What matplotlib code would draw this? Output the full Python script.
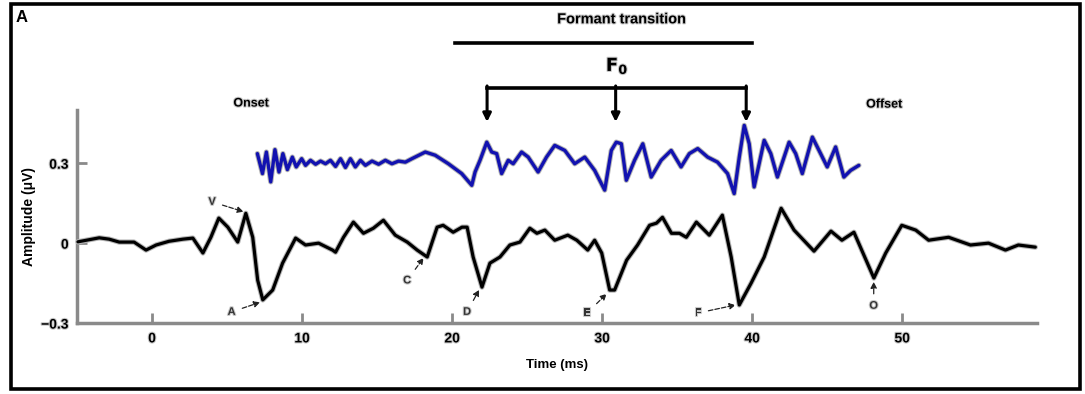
import matplotlib
matplotlib.use("Agg")
import matplotlib.pyplot as plt
import matplotlib.patheffects as pe
from matplotlib.patches import Rectangle

plt.rcParams['font.family'] = ['Liberation Sans', 'DejaVu Sans']

# grand-average response (black), time in ms, amplitude in uV
resp_t = [-4.94, -3.52, -2.86, -2.19, -1.20, -0.40, 0.27, 1.13, 2.06, 2.72, 3.39, 3.92,
          4.45, 5.05, 5.71, 6.25, 6.71, 7.04, 7.38, 8.04, 8.70, 9.57, 10.23, 11.10,
          12.03, 12.23, 12.76, 13.42, 14.09, 14.75, 15.42, 16.21, 17.01, 17.67, 18.34,
          19.00, 19.40, 20.07, 20.66, 21.00, 21.40, 21.99, 22.52, 23.19, 23.85, 24.52,
          25.18, 25.65, 26.18, 26.84, 27.71, 28.31, 29.04, 29.50, 29.97, 30.50, 30.83,
          31.63, 32.36, 33.16, 33.62, 34.02, 34.62, 35.15, 35.61, 36.28, 37.14, 38.01,
          38.60, 39.14, 39.93, 40.80, 41.93, 42.79, 44.12, 45.25, 45.98, 46.78, 48.11,
          48.90, 49.97, 50.90, 51.76, 53.09, 54.55, 55.75, 56.88, 57.74, 58.87]
resp_v = [0.005, 0.020, 0.015, 0.004, 0.004, -0.026, -0.007, 0.007, 0.015, 0.019, -0.037, 0.022,
          0.094, 0.060, 0.004, 0.112, 0.022, -0.139, -0.213, -0.176, -0.075, 0.019, -0.007, 0.000,
          -0.026, -0.034, 0.022, 0.079, 0.037, 0.056, 0.086, 0.030, 0.004, -0.026, -0.052,
          0.060, 0.067, 0.041, 0.060, 0.060, -0.052, -0.165, -0.075, -0.052, -0.007, 0.004,
          0.056, 0.037, 0.049, 0.011, 0.030, 0.011, -0.026, 0.011, -0.037, -0.176, -0.176,
          -0.064, -0.007, 0.067, 0.075, 0.097, 0.037, 0.037, 0.022, 0.079, 0.030, 0.105,
          -0.052, -0.232, -0.150, -0.052, 0.131, 0.049, -0.030, 0.045, 0.011, 0.041, -0.131,
          -0.037, 0.067, 0.049, 0.011, 0.022, -0.007, 0.000, -0.026, -0.007, -0.015]

# stimulus waveform (blue), drawn offset around 0.3
stim_t = [7.02, 7.36, 7.62, 7.91, 8.19, 8.46, 8.72, 9.02, 9.35, 9.61, 9.97, 10.23, 10.56,
          10.90, 11.23, 11.56, 11.89, 12.23, 12.56, 12.89, 13.22, 13.55, 13.89, 14.22, 14.66,
          15.10, 15.55, 15.99, 16.43, 16.88, 17.32, 18.21, 18.87, 19.75, 20.64, 21.31, 21.53,
          21.86, 22.31, 22.64, 22.97, 23.30, 23.74, 24.07, 24.63, 25.07, 25.73, 26.29, 26.84,
          27.51, 28.17, 28.84, 29.50, 30.17, 30.61, 30.94, 31.28, 31.61, 32.16, 32.71, 33.27,
          33.93, 34.60, 35.26, 35.81, 36.37, 37.03, 37.69, 38.36, 38.80, 39.14, 39.47, 39.80,
          40.13, 40.80, 41.24, 41.68, 42.46, 42.90, 43.34, 44.01, 44.56, 45.00, 45.56, 46.11,
          46.56, 47.11]
stim_v = [0.336, 0.261, 0.342, 0.230, 0.351, 0.267, 0.336, 0.276, 0.323, 0.286, 0.317, 0.292, 0.311,
          0.296, 0.308, 0.298, 0.311, 0.288, 0.317, 0.284, 0.317, 0.286, 0.311, 0.292, 0.308,
          0.296, 0.311, 0.298, 0.308, 0.304, 0.317, 0.342, 0.330, 0.298, 0.261, 0.217, 0.267,
          0.311, 0.379, 0.342, 0.336, 0.261, 0.311, 0.298, 0.342, 0.323, 0.267, 0.323, 0.367,
          0.348, 0.298, 0.323, 0.273, 0.199, 0.348, 0.379, 0.373, 0.236, 0.311, 0.373, 0.248,
          0.311, 0.348, 0.286, 0.336, 0.355, 0.323, 0.304, 0.261, 0.186, 0.323, 0.442, 0.373,
          0.211, 0.386, 0.336, 0.248, 0.379, 0.336, 0.261, 0.398, 0.336, 0.286, 0.361, 0.248,
          0.273, 0.292]

# peak labels: (label, text pos, arrow target)
peak_names = ['V', 'A', 'C', 'D', 'E', 'F', 'O']
peak_text = [(4.0, 0.155), (5.3, -0.258), (17.0, -0.14), (21.0, -0.258), (29.0, -0.262),
             (36.4, -0.262), (48.1, -0.235)]
peak_tip = [(6.1, 0.118), (7.2, -0.222), (18.1, -0.055), (21.8, -0.175), (30.3, -0.19),
            (38.9, -0.232), (48.1, -0.145)]

f0_times = [22.33, 30.9, 39.6]
formant_span = [20.2, 40.0]
xticks = [0, 10, 20, 30, 40, 50]
yticks = [-0.3, 0, 0.3]
ytick_labels = ['\u22120.3', '0', '0.3']

fig = plt.figure(figsize=(10.85, 3.94), dpi=100)
ax = fig.add_axes([0.071, 0.180, 0.885, 0.541])

halo = [pe.Stroke(linewidth=3.8, foreground='#b5b5b5'), pe.Normal()]
ax.plot(resp_t, resp_v, color='black', lw=2.3, path_effects=halo, clip_on=False, zorder=3,
        solid_joinstyle='round', solid_capstyle='round')
ax.plot(stim_t, stim_v, color='#1212b0', lw=2.4, path_effects=halo, clip_on=False, zorder=3,
        solid_joinstyle='round', solid_capstyle='round')

txt_halo = [pe.withStroke(linewidth=1.5, foreground='#c8c8c8')]
for name, tp, tip in zip(peak_names, peak_text, peak_tip):
    ax.annotate(name, xy=tip, xytext=tp, fontsize=8, fontweight='bold', color='#333333',
                ha='center', va='center', annotation_clip=False, path_effects=txt_halo,
                arrowprops=dict(arrowstyle='-|>', color='#222222', lw=0.9,
                                linestyle='--', mutation_scale=9, shrinkA=3, shrinkB=0))

# formant transition bar and F0 bracket
ax.plot(formant_span, [0.753, 0.753], color='black', lw=2.6, clip_on=False)
ax.text(31.3, 0.84, 'Formant transition', fontsize=10.5, fontweight='bold',
        ha='center', va='center', path_effects=txt_halo)
ax.text(31.0, 0.665, r'$\mathbf{F_0}$', fontsize=13, ha='center', va='center',
        path_effects=txt_halo)
ax.plot([f0_times[0], f0_times[-1]], [0.584, 0.584], color='black', lw=2.6, clip_on=False)
for t in f0_times:
    ax.annotate('', xy=(t, 0.455), xytext=(t, 0.59), annotation_clip=False,
                arrowprops=dict(arrowstyle='-|>', color='black', lw=2.2,
                                mutation_scale=12, shrinkA=0, shrinkB=0))

ax.text(6.6, 0.524, 'Onset', fontsize=9, fontweight='bold', ha='center', va='center',
        path_effects=txt_halo)
ax.text(48.8, 0.52, 'Offset', fontsize=9, fontweight='bold', ha='center', va='center',
        path_effects=txt_halo)

ax.set_xlim(-5, 59)
ax.set_ylim(-0.3, 0.5)
ax.set_xticks(xticks)
ax.set_yticks(yticks)
ax.set_yticklabels(ytick_labels)
for s in ['top', 'right']:
    ax.spines[s].set_visible(False)
for s in ['left', 'bottom']:
    ax.spines[s].set_color('#8a8a8a')
    ax.spines[s].set_linewidth(2.5)
ax.tick_params(direction='in', length=7, width=2, color='#8a8a8a', labelsize=10, pad=6)
for lab in ax.get_xticklabels() + ax.get_yticklabels():
    lab.set_fontweight('bold')
    lab.set_path_effects(txt_halo)
ax.set_xlabel('Time (ms)', fontsize=9.5, fontweight='bold', labelpad=10)
ax.set_ylabel('Amplitude (\u03bcV)', fontsize=10, fontweight='bold', labelpad=4)

fig.text(0.014, 0.955, 'A', fontsize=12, fontweight='bold', va='center')
fig.patches.append(Rectangle((0.010, 0.012), 0.985, 0.978, transform=fig.transFigure,
                             fill=False, edgecolor='black', lw=2.6))

fig.savefig('out.png', dpi=100)
